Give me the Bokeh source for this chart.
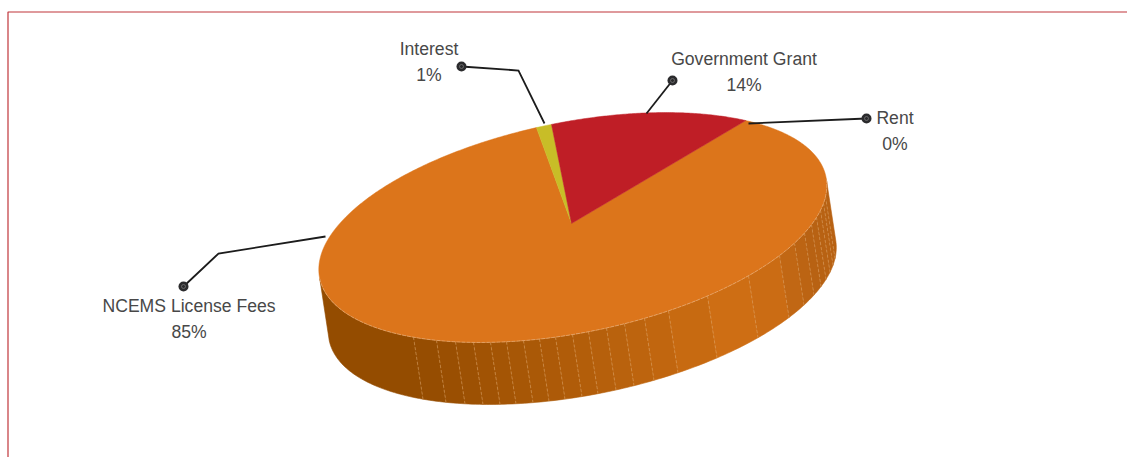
from math import cos, sin, radians, degrees, acos
from bokeh.plotting import figure
from bokeh.models import ColumnDataSource
from bokeh.core.properties import value
from bokeh.embed import file_html
from bokeh.resources import INLINE

# Revenue breakdown, in drawing order clockwise from the red/orange boundary
categories = ["NCEMS License Fees", "Interest", "Government Grant", "Rent"]
shares = [85, 1, 14, 0]
colors = ["#dc751b", "#c8bd27", "#bf1e26", "#8f8f8f"]

# Where the vertical shading steps of the wall meet the rim (screen x)
wall_steps = [413, 436, 455, 473, 490, 506, 523, 539, 555, 572, 588, 606, 624, 644,
              668, 707, 748, 779, 794, 804, 811, 816, 820, 823, 825]

# Projection of the tilted disc
CX, CY = 572.3, 227.0
AX, SKEW, BY = 254.0, -42.0, 107.0
DX, DY = 9.5, 62.0
START = -45.8
APEX = (571.0, 223.0)
RIGHT_TANGENT = -3.6
LEFT_TANGENT = 175.0


def rim(theta):
    t = radians(theta)
    return CX + AX * cos(t), CY + SKEW * cos(t) + BY * sin(t)


def warp(phi):
    # Far side of the disc is foreshortened by perspective
    return phi + 3.15 * sin(radians(phi - 110.0))


def mix(a, b, f):
    pa = [int(a[i:i + 2], 16) for i in (1, 3, 5)]
    pb = [int(b[i:i + 2], 16) for i in (1, 3, 5)]
    return "#%02x%02x%02x" % tuple(round(x + (y - x) * f) for x, y in zip(pa, pb))


def wall_color(x):
    if x < 748:
        return mix("#944c00", "#d27015", max(0.0, (x - 413) / (748 - 413)))
    return mix("#d27015", "#b86213", min(1.0, (x - 748) / 60))


p = figure(width=1127, height=457, x_range=(0, 1127), y_range=(457, 0),
           output_backend="svg", toolbar_location=None, min_border=0,
           background_fill_color="white", border_fill_color="white", outline_line_color=None)
p.axis.visible = False
p.grid.visible = False

# Frame around the chart area
p.line([7.5, 7.5, 1127], [457, 11.5, 11.5], line_color="#c0343a", line_width=1.2)

# Wall of the disc, shaded in steps from left to right
edge_angles = [LEFT_TANGENT]
for x in wall_steps:
    edge_angles.append(degrees(acos((x - CX) / AX)))
edge_angles.append(RIGHT_TANGENT)


def facet(a0, a1):
    n = max(2, int(abs(a1 - a0)) + 1)
    top = [rim(a0 + (a1 - a0) * i / n) for i in range(n + 1)]
    xs = [q[0] for q in top] + [q[0] + DX for q in reversed(top)]
    ys = [q[1] for q in top] + [q[1] + DY for q in reversed(top)]
    return xs, ys


for a0, a1 in zip(edge_angles[:-1], edge_angles[1:]):
    col = wall_color(rim((a0 + a1) / 2)[0])
    xs, ys = facet(a0, a1)
    p.patch(xs, ys, fill_color=col, line_color=col, line_width=0.6)

for a in edge_angles[1:-1]:
    x, y = rim(a)
    p.line([x, x + DX], [y, y + DY], line_color="#dfa66c", line_width=0.7,
           line_alpha=0.75, line_dash="3 2")

# Top face, one wedge per category
bounds = [START]
for s in shares:
    bounds.append(bounds[-1] + s / sum(shares) * 360.0)

for a0, a1, col in zip(bounds[:-1], bounds[1:], colors):
    if a1 <= a0:
        continue
    n = max(2, int(a1 - a0) * 2)
    pts = [rim(warp(a0 + (a1 - a0) * i / n)) for i in range(n + 1)]
    p.patch([APEX[0]] + [q[0] for q in pts], [APEX[1]] + [q[1] for q in pts],
            fill_color=col, line_color=col, line_width=0.5)

# Light hairline along the front of the rim
front = [rim(RIGHT_TANGENT + (LEFT_TANGENT - RIGHT_TANGENT) * i / 160) for i in range(161)]
p.line([q[0] for q in front], [q[1] for q in front], line_color="#ecc096", line_width=0.7,
       line_alpha=0.8, line_dash="4 1")

# Leader lines ending in a round dot
leaders = [
    ([325, 218, 183], [236, 253, 286]),
    ([544, 518, 461], [123, 70, 66]),
    ([646, 672], [113, 80]),
    ([748, 866], [123, 118]),
]
for xs, ys in leaders:
    p.line(xs, ys, line_color="#1c1c1c", line_width=1.8, line_join="miter")
    p.scatter([xs[-1]], [ys[-1]], size=10, fill_color="#2b2b2d", line_color=None)
    p.scatter([xs[-1]], [ys[-1]], size=4, fill_color=None, line_color="#8c8c8c", line_width=0.6)

# Labels: name on the first line, percentage under it
label_x = [188.5, 428.5, 743.5, 894.5]
label_y = [305, 48, 58, 117]
src_names = ColumnDataSource(dict(x=label_x, y=label_y, t=categories))
src_pct = ColumnDataSource(dict(x=label_x, y=[v + 26 for v in label_y], t=["%d%%" % s for s in shares]))
for src in (src_names, src_pct):
    p.text("x", "y", text="t", source=src, text_align="center", text_baseline="middle",
           text_color="#484848", text_font=value("Liberation Sans"), text_font_size="17.6px")

open("out.html", "w").write(file_html(p, INLINE))
